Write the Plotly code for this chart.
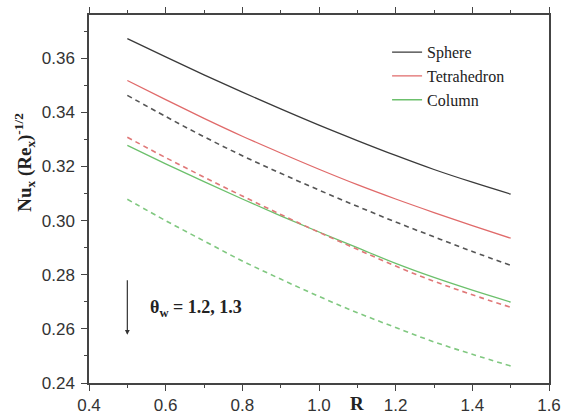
import plotly.graph_objects as go

R = [0.5, 0.6, 0.7, 0.8, 0.9, 1.0, 1.1, 1.2, 1.3, 1.4, 1.5]

# theta_w = 1.2 (solid)
sphere_12 = [0.3673, 0.3605, 0.3539, 0.3475, 0.3413, 0.3353, 0.3296, 0.3241, 0.3189, 0.3142, 0.3098]
tetra_12 = [0.3518, 0.3447, 0.3378, 0.3312, 0.3250, 0.3190, 0.3133, 0.3080, 0.3030, 0.2982, 0.2935]
column_12 = [0.3278, 0.3210, 0.3144, 0.3080, 0.3018, 0.2958, 0.2900, 0.2842, 0.2790, 0.2743, 0.2699]

# theta_w = 1.3 (dashed)
sphere_13 = [0.3463, 0.3385, 0.3310, 0.3240, 0.3175, 0.3113, 0.3053, 0.2995, 0.2940, 0.2886, 0.2835]
tetra_13 = [0.3308, 0.3233, 0.3161, 0.3091, 0.3023, 0.2957, 0.2894, 0.2832, 0.2776, 0.2726, 0.2680]
column_13 = [0.3079, 0.3000, 0.2925, 0.2851, 0.2784, 0.2720, 0.2660, 0.2605, 0.2552, 0.2506, 0.2463]

names = ["Sphere", "Tetrahedron", "Column"]
colors = ["#3a3a3a", "#e06a6a", "#6cc06c"]
colors_d = ["#555555", "#e07878", "#80c880"]

fig = go.Figure()
for name, col, ys in zip(names, colors, [sphere_12, tetra_12, column_12]):
    fig.add_trace(go.Scatter(x=R, y=ys, mode="lines", name=name,
                             line=dict(color=col, width=1.3, shape="spline")))
for name, col, ys in zip(names, colors_d, [sphere_13, tetra_13, column_13]):
    fig.add_trace(go.Scatter(x=R, y=ys, mode="lines", name=name, showlegend=False,
                             line=dict(color=col, width=1.6, dash="5px,4px", shape="spline")))

axis_col = "#444444"
fig.update_layout(
    width=563, height=417,
    margin=dict(l=89, r=14, t=15, b=34),
    paper_bgcolor="white", plot_bgcolor="white",
    showlegend=True,
    legend=dict(x=0.648, y=0.945, xanchor="left", yanchor="top",
                font=dict(family="Liberation Serif", size=16, color="#222"),
                bgcolor="rgba(0,0,0,0)", tracegroupgap=0, itemwidth=30),
    xaxis=dict(range=[0.4, 1.6], tickvals=[0.4, 0.6, 0.8, 1.0, 1.2, 1.4, 1.6],
               ticktext=["0.4", "0.6", "0.8", "1.0", "1.2", "1.4", "1.6"],
               ticks="outside", ticklen=6, tickwidth=1.3, tickcolor=axis_col,
               minor=dict(dtick=0.1, ticks="outside", ticklen=3, tickcolor=axis_col),
               showline=True, linecolor=axis_col, linewidth=1.5, mirror="ticks",
               showgrid=False, zeroline=False, automargin=False,
               tickfont=dict(family="Liberation Sans", size=17, color="#333")),
    yaxis=dict(range=[0.24, 0.376], tickvals=[0.24, 0.26, 0.28, 0.30, 0.32, 0.34, 0.36],
               ticktext=["0.24", "0.26", "0.28", "0.30", "0.32", "0.34", "0.36"],
               ticks="outside", ticklen=6, tickwidth=1.3, tickcolor=axis_col,
               minor=dict(dtick=0.01, ticks="outside", ticklen=3, tickcolor=axis_col),
               showline=True, linecolor=axis_col, linewidth=1.5, mirror=True,
               showgrid=False, zeroline=False, ticklabelstandoff=3, automargin=False,
               tickfont=dict(family="Liberation Sans", size=17, color="#333")),
)

fig.add_annotation(x=-0.14, y=0.6, xref="paper", yref="paper", textangle=-90,
                   xanchor="center", yanchor="middle",
                   text="<b>Nu<sub>x</sub> (Re<sub>x</sub>)<sup>-1/2</sup></b>", showarrow=False,
                   font=dict(family="Liberation Serif", size=19, color="#222"))
fig.add_annotation(x=1.1, y=0, xref="x", yref="paper", yanchor="top", yshift=-8,
                   text="<b>R</b>", showarrow=False,
                   font=dict(family="Liberation Serif", size=19, color="#222"))
fig.add_annotation(x=0.5, y=0.2578, ax=0.5, ay=0.2785, xref="x", yref="y",
                   axref="x", ayref="y", text="", showarrow=True,
                   arrowhead=2, arrowsize=0.8, arrowwidth=1.2, arrowcolor="#333")
fig.add_annotation(x=0.555, y=0.2675, xref="x", yref="y", xanchor="left",
                   text="<b>θ<sub>w</sub> = 1.2, 1.3</b>", showarrow=False,
                   font=dict(family="Liberation Serif", size=18, color="#222"))

fig.write_html("out.html")
